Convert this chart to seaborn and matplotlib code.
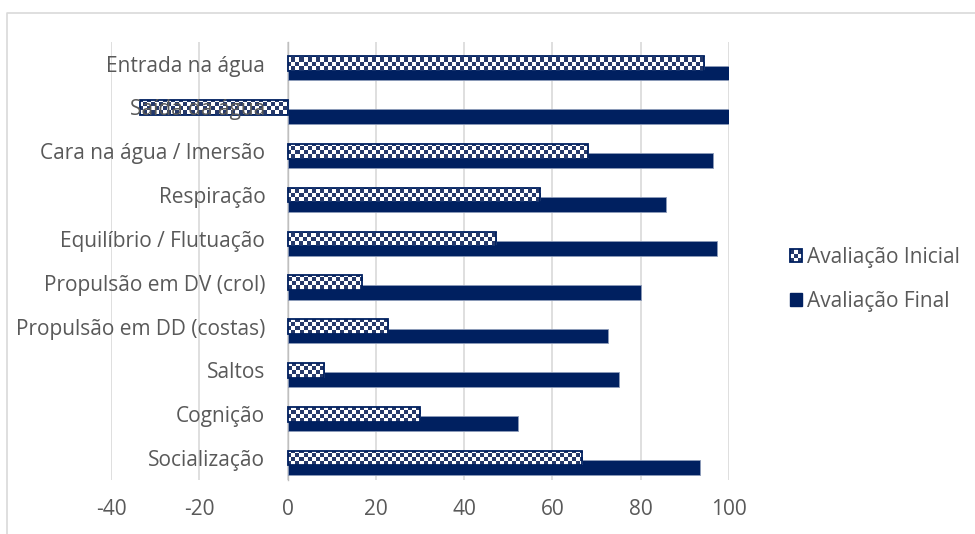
import numpy as np
import pandas as pd
import matplotlib
matplotlib.use("Agg")
import matplotlib.pyplot as plt
import seaborn as sns
from matplotlib.patches import Rectangle
from matplotlib.lines import Line2D
from matplotlib.legend_handler import HandlerBase

# ---- data -------------------------------------------------------------
categorias = [
    "Entrada na água",
    "Saída da água",
    "Cara na água / Imersão",
    "Respiração",
    "Equilíbrio / Flutuação",
    "Propulsão em DV (crol)",
    "Propulsão em DD (costas)",
    "Saltos",
    "Cognição",
    "Socialização",
]
avaliacao_inicial = [94.3, -33.5, 68.0, 57.2, 47.3, 16.8, 22.8, 8.3, 30.0, 66.7]
avaliacao_final = [100.0, 100.0, 96.4, 85.7, 97.3, 80.0, 72.7, 75.0, 52.2, 93.4]
series_nomes = ["Avaliação Inicial", "Avaliação Final"]
x_ticks = [-40, -20, 0, 20, 40, 60, 80, 100]

# ---- style ------------------------------------------------------------
sns.set_theme(style="white")
plt.rcParams["font.family"] = ["Open Sans", "DejaVu Sans"]
NAVY = "#002060"
CHECK_DARK = "#26396a"
TEXT = "#595959"
GRID = "#d9d9d9"
FS = 15

fig = plt.figure(figsize=(9.75, 5.34), dpi=100)
ax = fig.add_axes([111 / 975, 1 - 480 / 534, (729 - 111) / 975, (480 - 41.7) / 534])

pos = np.arange(len(categorias))
BAR_H = 0.336
SHIFT = 0.214

df = pd.DataFrame({"pos": pos, "inicial": avaliacao_inicial, "final": avaliacao_final})

# final evaluation bars (solid), slightly below the category centre
sns.barplot(data=df.assign(p=df["pos"] + SHIFT), x="final", y="p", orient="y",
            native_scale=True, width=BAR_H, color=NAVY, saturation=1,
            errorbar=None, ax=ax, zorder=1,
            edgecolor="#8d9bb9", linewidth=0.6)
# initial evaluation bars (checkerboard), centred on the category
sns.barplot(data=df, x="inicial", y="pos", orient="y",
            native_scale=True, width=BAR_H, color="white", saturation=1,
            errorbar=None, ax=ax, zorder=1.1,
            edgecolor=NAVY, linewidth=1.3)

ax.set_xlim(-40, 100)
ax.set_ylim(len(categorias) - 0.5, -0.5)

# checkerboard texture, clipped to each initial bar; the bar itself keeps the outline
cell_x = 4.0 / 4.413
cell_y = 4.0 / 43.83
nx = int(np.ceil(140 / cell_x))
ny = int(np.ceil((len(categorias) + 0.5) / cell_y))
checker = (np.add.outer(np.arange(ny), np.arange(nx)) % 2).astype(float)
cmap = matplotlib.colors.ListedColormap(["white", CHECK_DARK])
for bar in ax.containers[-1]:
    im = ax.imshow(checker, cmap=cmap, interpolation="nearest", aspect="auto",
                   extent=(-40, -40 + nx * cell_x, -0.5 + ny * cell_y, -0.5),
                   zorder=1.15)
    im.set_clip_path(bar)
    bar.set_facecolor("none")
    bar.set_zorder(1.2)
ax.set_xlim(-40, 100)
ax.set_ylim(len(categorias) - 0.5, -0.5)

# axes decoration
ax.set_xticks(x_ticks)
ax.set_xticklabels([str(v) for v in x_ticks])
ax.set_yticks(pos)
ax.set_yticklabels(categorias)
ax.set_xlabel("")
ax.set_ylabel("")
ax.grid(axis="x", color=GRID, linewidth=1.2)
ax.grid(axis="y", visible=False)
ax.xaxis.set_zorder(0.5)
ax.yaxis.set_zorder(5)
for side in ["top", "right", "bottom"]:
    ax.spines[side].set_visible(False)
ax.spines["left"].set_position(("data", 0))
ax.spines["left"].set_color("#bfbfbf")
ax.spines["left"].set_linewidth(1.0)
ax.spines["left"].set_zorder(0.6)
ax.tick_params(axis="y", length=0, pad=16, labelsize=FS, labelcolor=TEXT)
ax.tick_params(axis="x", length=0, pad=14, labelsize=FS, labelcolor=TEXT)
ax.set_facecolor("none")


# legend with a checkerboard swatch
class CheckerHandler(HandlerBase):
    def create_artists(self, legend, orig_handle, xdescent, ydescent,
                       width, height, fontsize, trans):
        x0, y0 = -xdescent, -ydescent
        arts = [Rectangle((x0, y0), width, height, facecolor="white",
                          edgecolor="none", transform=trans)]
        n = 3
        cw, ch = width / n, height / n
        for i in range(n):
            for j in range(n):
                if (i + j) % 2 == 0:
                    arts.append(Rectangle((x0 + i * cw, y0 + j * ch), cw, ch,
                                          facecolor=CHECK_DARK, edgecolor="none",
                                          transform=trans))
        arts.append(Rectangle((x0, y0), width, height, facecolor="none",
                              edgecolor=NAVY, linewidth=1.3, transform=trans))
        return arts


h_ini = Rectangle((0, 0), 1, 1, facecolor="white", edgecolor=NAVY)
h_fin = Rectangle((0, 0), 1, 1, facecolor=NAVY, edgecolor=NAVY)
leg = fig.legend([h_ini, h_fin], series_nomes, loc="center left",
                 bbox_to_anchor=(790 / 975, 1 - 279.5 / 534),
                 frameon=False, fontsize=FS, handlelength=0.58, handleheight=0.58,
                 handletextpad=0.25, labelspacing=1.1, borderpad=0, borderaxespad=0,
                 handler_map={h_ini: CheckerHandler()})
for t in leg.get_texts():
    t.set_color(TEXT)

# chart border
fig.add_artist(Line2D([7 / 975, 7 / 975, 1.0], [0.0, 1 - 13 / 534, 1 - 13 / 534],
                      transform=fig.transFigure, color=GRID, linewidth=1.2))

fig.savefig("out.png", dpi=100)
